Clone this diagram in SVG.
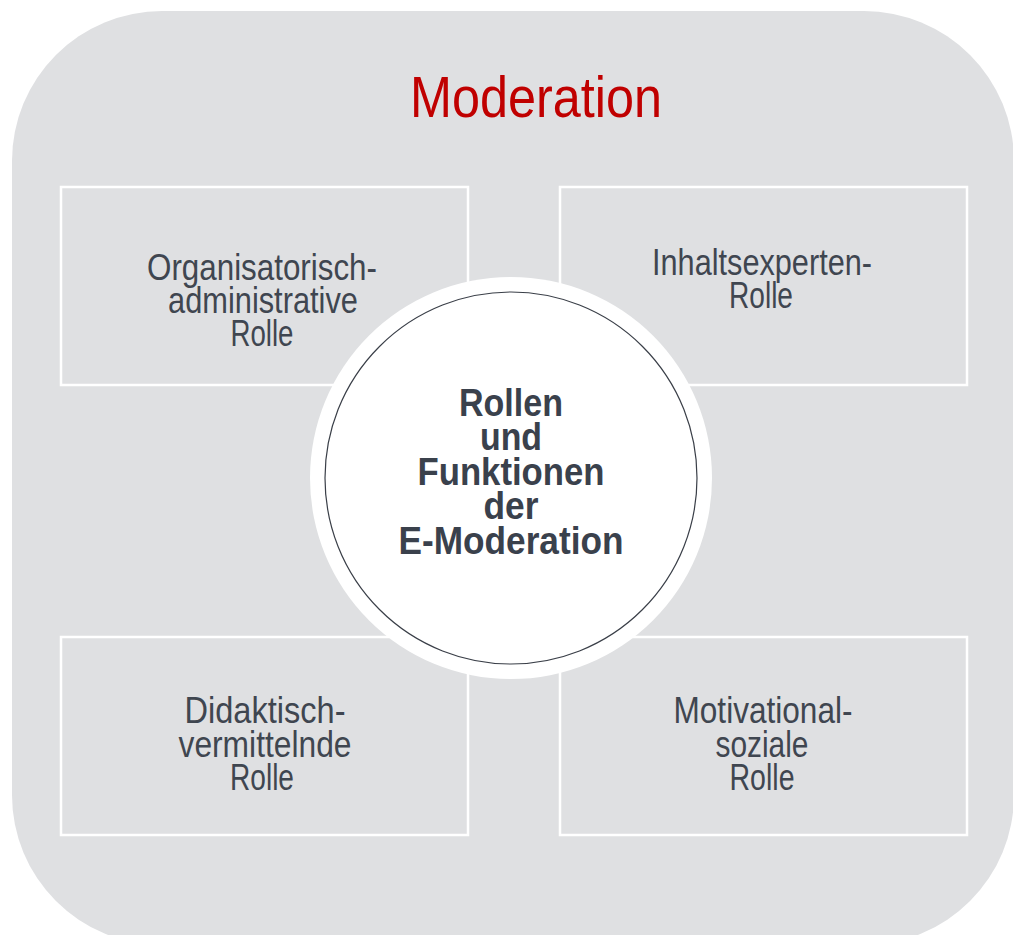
<svg xmlns="http://www.w3.org/2000/svg" width="1013" height="935" viewBox="0 0 1013 935">
  <style>
    .bg { fill: #dfe0e2; }
    .box { fill: none; stroke: #ffffff; stroke-width: 2.5; }
    .role { font-family: "Liberation Sans", Arial, sans-serif; font-size: 37px; fill: #3f4650; text-anchor: middle; }
    .center { font-family: "Liberation Sans", Arial, sans-serif; font-size: 38px; font-weight: bold; fill: #3a414c; text-anchor: middle; }
    .title { font-family: "Liberation Sans", Arial, sans-serif; font-size: 58px; fill: #c00000; text-anchor: middle; }
  </style>
  <rect width="1013" height="935" fill="#ffffff"/>
  <g id="background">
    <path class="bg" d="M162,11 H864 A150,150 0 0 1 1014,161 V795 A150,150 0 0 1 864,945 H162 A150,150 0 0 1 12,795 V161 A150,150 0 0 1 162,11 Z"/>
    <text class="title" x="536" y="117" textLength="252" lengthAdjust="spacingAndGlyphs">Moderation</text>
  </g>
  <g id="connectors"></g>
  <g id="node-org">
    <rect class="box" x="61" y="187" width="407" height="198"/>
    <text class="role" x="262" y="280" textLength="230" lengthAdjust="spacingAndGlyphs">Organisatorisch-</text>
    <text class="role" x="263" y="313" textLength="190" lengthAdjust="spacingAndGlyphs">administrative</text>
    <text class="role" x="262" y="346" textLength="63" lengthAdjust="spacingAndGlyphs">Rolle</text>
  </g>
  <g id="node-inhalt">
    <rect class="box" x="560" y="187" width="407" height="198"/>
    <text class="role" x="762" y="275" textLength="220" lengthAdjust="spacingAndGlyphs">Inhaltsexperten-</text>
    <text class="role" x="761" y="308" textLength="64" lengthAdjust="spacingAndGlyphs">Rolle</text>
  </g>
  <g id="node-didakt">
    <rect class="box" x="61" y="637" width="407" height="198"/>
    <text class="role" x="265" y="723" textLength="161" lengthAdjust="spacingAndGlyphs">Didaktisch-</text>
    <text class="role" x="265" y="757" textLength="173" lengthAdjust="spacingAndGlyphs">vermittelnde</text>
    <text class="role" x="262" y="790" textLength="64" lengthAdjust="spacingAndGlyphs">Rolle</text>
  </g>
  <g id="node-motiv">
    <rect class="box" x="560" y="637" width="407" height="198"/>
    <text class="role" x="763" y="723" textLength="179" lengthAdjust="spacingAndGlyphs">Motivational-</text>
    <text class="role" x="762" y="757" textLength="93" lengthAdjust="spacingAndGlyphs">soziale</text>
    <text class="role" x="762" y="790" textLength="65" lengthAdjust="spacingAndGlyphs">Rolle</text>
  </g>
  <g id="node-center">
    <circle cx="511" cy="478" r="201" fill="#ffffff"/>
    <circle cx="511" cy="478" r="186" fill="#ffffff" stroke="#3a3f48" stroke-width="1.2"/>
    <text class="center" x="511" y="416" textLength="104" lengthAdjust="spacingAndGlyphs">Rollen</text>
    <text class="center" x="511" y="450" textLength="62" lengthAdjust="spacingAndGlyphs">und</text>
    <text class="center" x="511" y="485" textLength="187" lengthAdjust="spacingAndGlyphs">Funktionen</text>
    <text class="center" x="511" y="519" textLength="55" lengthAdjust="spacingAndGlyphs">der</text>
    <text class="center" x="511" y="554" textLength="225" lengthAdjust="spacingAndGlyphs">E-Moderation</text>
  </g>
</svg>
